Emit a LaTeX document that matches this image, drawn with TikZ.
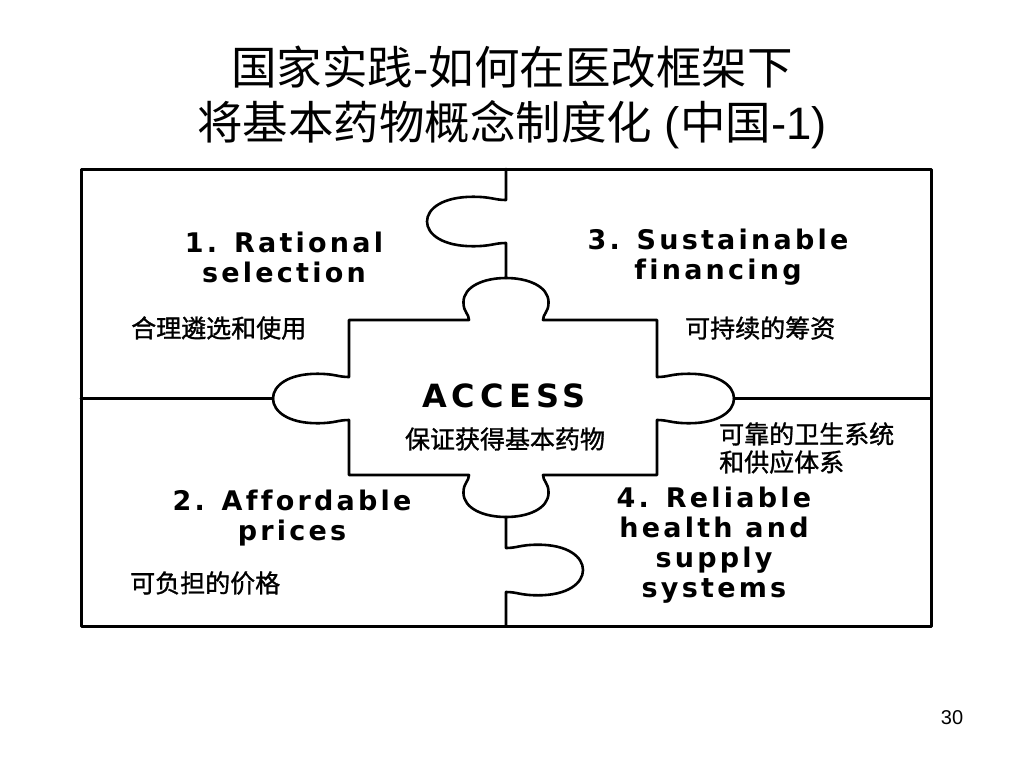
\documentclass[tikz,border=0pt]{standalone}
\usepackage{fontspec}
\setmainfont{Liberation Sans}
\newfontfamily\cjk{Noto Sans CJK SC}
\newfontfamily\cjkb[FakeBold=1.2]{Noto Sans CJK SC}
\newfontfamily\enfont[LetterSpace=12,Ligatures=NoCommon]{DejaVu Sans}
\newfontfamily\accfont[LetterSpace=16,Ligatures=NoCommon]{DejaVu Sans}

% knob on a horizontal base: #1 centre x, #2 base y, #3 half width, #4 signed depth
\newcommand\knobY[4]{.. controls ({#1-(#3)},{#2+0.15*(#4)}) and ({#1-1.15*(#3)},{#2+0.18*(#4)}) .. ({#1-1.15*(#3)},{#2+0.42*(#4)}) .. controls ({#1-1.15*(#3)},{#2+0.8*(#4)}) and ({#1-0.6*(#3)},{#2+(#4)}) .. ({#1},{#2+(#4)}) .. controls ({#1+0.6*(#3)},{#2+(#4)}) and ({#1+1.15*(#3)},{#2+0.8*(#4)}) .. ({#1+1.15*(#3)},{#2+0.42*(#4)}) .. controls ({#1+1.15*(#3)},{#2+0.18*(#4)}) and ({#1+(#3)},{#2+0.15*(#4)}) .. ({#1+(#3)},{#2})}
% knob on a vertical base: #1 base x, #2 centre y, #3 half width, #4 signed depth
\newcommand\knobX[4]{.. controls ({#1+0.15*(#4)},{#2-(#3)}) and ({#1+0.18*(#4)},{#2-1.15*(#3)}) .. ({#1+0.42*(#4)},{#2-1.15*(#3)}) .. controls ({#1+0.8*(#4)},{#2-1.15*(#3)}) and ({#1+(#4)},{#2-0.6*(#3)}) .. ({#1+(#4)},{#2}) .. controls ({#1+(#4)},{#2+0.6*(#3)}) and ({#1+0.8*(#4)},{#2+1.15*(#3)}) .. ({#1+0.42*(#4)},{#2+1.15*(#3)}) .. controls ({#1+0.18*(#4)},{#2+1.15*(#3)}) and ({#1+0.15*(#4)},{#2+(#3)}) .. ({#1},{#2+(#3)})}

\begin{document}
\begin{tikzpicture}[x=1pt,y=-1pt,
  outline/.style={draw=black,line width=2.6pt,line cap=round,line join=round},
  entext/.style={font=\enfont\bfseries\fontsize{27}{30}\selectfont,align=center,inner sep=0pt},
  cjktext/.style={font=\cjkb\fontsize{25}{28}\selectfont,anchor=west,inner sep=0pt,align=left},
  titletext/.style={font=\fontsize{45.5}{55}\selectfont,align=center,inner sep=0pt}]
\useasboundingbox[fill=white] (0,0) rectangle (1024,768);

% title
\node[titletext] (title) at (512,97) {{\cjk 国家实践}-{\cjk 如何在医改框架下}\\{\cjk 将基本药物概念制度化} ({\cjk 中国}-1)};

% frame
\draw[outline,line width=3pt] (81,169) rectangle (931,626);

% dividers
\draw[outline] (506,169) -- (506,200) \knobX{506}{221.5}{21.5}{-79} -- (506,278);
\draw[outline] (506,517) -- (506,548) \knobX{506}{570}{22}{77} -- (506,626);
\draw[outline] (81,398.5) -- (273,398.5);
\draw[outline] (734,398.5) -- (931,398.5);

% centre piece
\draw[outline] (349,320) -- (469,320) \knobY{506}{320}{37}{-42} -- (657,320) -- (657,377)
  \knobX{657}{398.5}{21.5}{77} -- (657,475) -- (543,475) \knobY{506}{475}{-37}{42}
  -- (349,475) -- (349,420) \knobX{349}{398.5}{-21.5}{-76} -- cycle;

% English labels
\node[entext] (q1) at (284,257.5) {1. Rational\\selection};
\node[entext] (q3) at (718,257.5) {3. Sustainable\\financing};
\node[entext] (q2) at (292,518) {2. Affordable\\prices};
\node[entext] (q4) at (714,545.5) {4. Reliable\\health and\\supply\\systems};
\node[font=\accfont\bfseries\fontsize{32}{36}\selectfont,inner sep=0pt] (acc) at (504,396) {ACCESS};

% Chinese labels
\node[cjktext] (c1) at (131,328) {合理遴选和使用};
\node[cjktext] (c3) at (685,328) {可持续的筹资};
\node[cjktext] (c4) at (719,448) {可靠的卫生系统\\和供应体系};
\node[cjktext] (c2) at (130,583) {可负担的价格};
\node[cjktext,anchor=center] (c0) at (505,439) {保证获得基本药物};

% page number
\node[font=\fontsize{20}{24}\selectfont,inner sep=0pt] (pg) at (952,718) {30};
\end{tikzpicture}
\end{document}
